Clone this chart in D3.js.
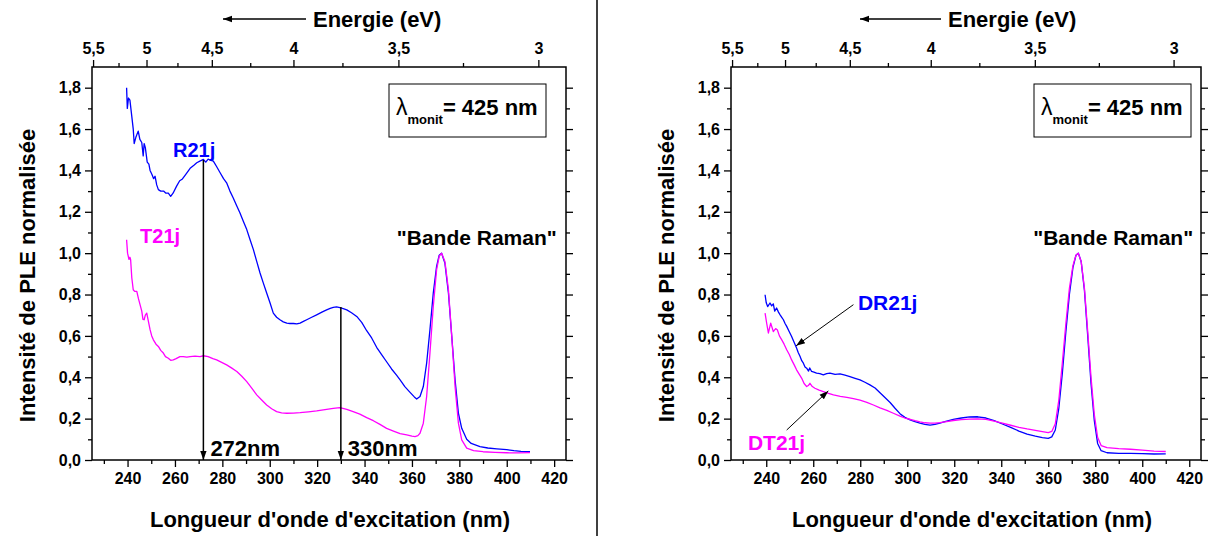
<!DOCTYPE html>
<html><head><meta charset="utf-8">
<script src="https://cdn.jsdelivr.net/npm/d3@7"></script>
<style>
body{margin:0;background:#fff;}
svg{display:block;font-family:"Liberation Sans",Arial,sans-serif;}
</style></head>
<body><svg id="c" width="1208" height="536"></svg>
<script>
// ---------- DATA ----------
const xDomain = [225, 425];
const yDomain = [0, 1.9];
const xMajorTicks = [240, 260, 280, 300, 320, 340, 360, 380, 400, 420];
const xMinorTicks = [230, 250, 270, 290, 310, 330, 350, 370, 390, 410];
const yMajorTicks = [0, 0.2, 0.4, 0.6, 0.8, 1.0, 1.2, 1.4, 1.6, 1.8];
const yMinorTicks = [0.1, 0.3, 0.5, 0.7, 0.9, 1.1, 1.3, 1.5, 1.7];
const energyTicks = [5.5, 5, 4.5, 4, 3.5, 3];
const energyLabels = ["5,5", "5", "4,5", "4", "3,5", "3"];
const energyMinor = [5.25, 4.75, 4.25, 3.75, 3.25];

// Left panel: R21j (blue)
const wlR21j = [239.6,239.9,240.4,241.0,241.8,242.4,242.8,243.5,244.5,245.2,246.0,246.6,247.0,247.5,248.3,249.0,249.5,250.3,251.0,251.6,252.3,253.0,254.0,255.2,256.2,257.2,258.2,259.2,260.7,262.0,263.0,264.5,266.4,268.0,269.2,270.5,272.0,273.0,274.0,275.2,276.2,277.5,279.0,280.5,281.8,283.2,284.6,286.0,287.4,288.8,290.3,291.7,293.1,294.5,295.9,297.3,298.7,300.1,301.5,302.9,304.3,305.7,307.2,308.5,310.0,311.4,312.8,314.2,315.6,317.7,319.8,322.0,324.0,325.5,326.8,328.2,329.6,331.0,332.5,334.5,336.7,338.8,340.9,343.0,345.1,347.2,349.3,351.4,353.5,355.0,357.0,359.2,361.0,362.0,363.4,364.8,366.2,367.6,369.0,370.4,371.5,372.5,373.9,375.4,376.8,378.2,379.6,381.0,383.1,385.0,388.7,392.0,395.8,400.0,403.0,406.0,409.8];
const valR21j = [1.80,1.70,1.75,1.74,1.66,1.60,1.53,1.56,1.59,1.55,1.535,1.47,1.53,1.51,1.44,1.43,1.40,1.38,1.36,1.372,1.33,1.307,1.30,1.30,1.29,1.29,1.275,1.29,1.324,1.35,1.357,1.38,1.41,1.425,1.437,1.445,1.453,1.44,1.455,1.448,1.445,1.42,1.39,1.36,1.34,1.30,1.267,1.23,1.195,1.155,1.114,1.065,1.017,0.96,0.904,0.855,0.807,0.76,0.71,0.69,0.678,0.668,0.662,0.660,0.660,0.658,0.662,0.670,0.678,0.69,0.702,0.715,0.726,0.733,0.738,0.74,0.737,0.732,0.726,0.712,0.694,0.665,0.625,0.59,0.545,0.51,0.475,0.44,0.41,0.387,0.355,0.327,0.305,0.295,0.307,0.355,0.468,0.63,0.807,0.936,0.99,1.0,0.952,0.807,0.597,0.387,0.226,0.153,0.10,0.08,0.065,0.058,0.054,0.05,0.045,0.042,0.04];

// Left panel: T21j (magenta)
const wlT21j = [239.6,240.0,240.6,241.0,241.3,241.8,242.4,243.0,243.9,244.6,245.3,246.0,246.5,247.0,247.5,248.1,248.8,249.5,250.2,250.9,252.0,253.0,254.0,255.1,256.0,257.2,258.2,259.3,260.5,262.1,263.5,265.0,266.4,268.5,270.6,272.0,274.0,276.0,277.6,279.7,281.8,284.0,286.1,288.2,290.3,292.4,294.5,296.6,298.7,300.8,302.9,305.0,307.2,310.0,312.8,316.3,319.8,323.3,326.8,329.6,332.5,335.2,338.0,340.9,343.7,346.5,349.3,352.2,355.0,357.8,360.0,361.3,362.5,363.4,364.8,366.2,367.6,369.0,370.4,371.5,372.5,373.9,375.4,376.8,378.2,379.6,381.0,383.1,386.0,390.0,395.0,400.0,405.0,409.8];
const valT21j = [1.065,1.00,0.97,0.98,0.968,0.88,0.823,0.815,0.815,0.78,0.75,0.72,0.68,0.678,0.70,0.71,0.67,0.63,0.60,0.581,0.56,0.549,0.53,0.517,0.50,0.492,0.482,0.484,0.49,0.50,0.50,0.497,0.50,0.502,0.50,0.504,0.50,0.49,0.484,0.472,0.46,0.444,0.428,0.405,0.379,0.347,0.315,0.29,0.266,0.248,0.234,0.228,0.226,0.227,0.229,0.233,0.237,0.244,0.25,0.253,0.245,0.234,0.222,0.205,0.19,0.172,0.153,0.14,0.128,0.121,0.115,0.113,0.118,0.129,0.178,0.307,0.517,0.742,0.92,0.985,1.0,0.96,0.823,0.597,0.355,0.178,0.097,0.057,0.045,0.04,0.037,0.035,0.034,0.036];

// Right panel: DR21j (blue)
const wlDR21j = [239.5,240.0,240.6,241.6,242.3,243.0,243.6,244.4,245.2,245.9,246.6,247.3,248.0,248.7,249.8,250.8,251.8,252.9,253.6,254.4,255.1,255.8,256.5,257.2,258.0,258.5,259.3,260.3,261.4,262.8,264.3,265.7,267.1,269.3,271.4,273.5,275.6,277.8,279.9,282.0,284.1,286.3,288.4,290.5,292.7,294.8,296.9,299.0,301.2,303.3,305.4,307.5,309.7,311.8,313.9,316.0,319.6,323.0,326.5,330.0,333.5,337.0,340.5,344.0,347.5,351.0,354.5,357.5,360.0,361.5,363.0,364.5,366.0,367.5,369.0,370.5,371.8,372.8,374.0,375.4,376.8,378.2,379.6,381.0,382.5,385.0,390.0,395.0,400.0,405.0,410.0];
const valDR21j = [0.799,0.76,0.742,0.759,0.745,0.755,0.72,0.735,0.715,0.702,0.69,0.678,0.66,0.646,0.62,0.597,0.57,0.541,0.52,0.50,0.48,0.468,0.45,0.444,0.43,0.445,0.428,0.425,0.42,0.418,0.412,0.418,0.42,0.414,0.416,0.41,0.403,0.395,0.387,0.376,0.363,0.348,0.325,0.302,0.278,0.25,0.224,0.206,0.194,0.185,0.178,0.172,0.169,0.172,0.178,0.186,0.196,0.203,0.208,0.209,0.203,0.19,0.174,0.158,0.14,0.125,0.115,0.108,0.105,0.112,0.145,0.25,0.42,0.62,0.8,0.93,0.99,1.0,0.96,0.82,0.6,0.37,0.19,0.08,0.045,0.035,0.032,0.032,0.031,0.029,0.03];

// Right panel: DT21j (magenta)
const wlDT21j = [239.5,240.2,240.9,241.9,243.0,244.0,244.7,245.6,246.6,247.6,248.7,249.8,250.8,251.9,252.9,254.0,255.1,256.1,257.2,257.9,258.6,259.6,260.7,262.5,264.3,266.5,268.6,271.5,274.3,277.1,279.9,282.8,285.6,288.4,291.3,294.1,296.9,299.0,301.2,303.3,305.4,307.5,309.7,311.8,313.9,316.8,319.6,323.0,326.5,330.0,333.5,337.0,340.5,344.0,347.5,351.0,354.5,357.5,360.0,361.5,363.0,364.5,366.0,367.5,369.0,370.5,371.8,372.8,374.0,375.4,376.8,378.2,379.6,381.0,382.5,385.0,390.0,395.0,400.0,405.0,410.0];
const valDT21j = [0.71,0.66,0.614,0.662,0.621,0.635,0.63,0.60,0.581,0.56,0.533,0.51,0.484,0.46,0.436,0.415,0.395,0.37,0.355,0.36,0.371,0.355,0.347,0.338,0.331,0.322,0.315,0.308,0.303,0.297,0.29,0.279,0.266,0.252,0.24,0.226,0.212,0.203,0.197,0.19,0.184,0.18,0.178,0.178,0.181,0.186,0.191,0.195,0.198,0.199,0.196,0.188,0.178,0.168,0.158,0.15,0.143,0.137,0.132,0.138,0.175,0.29,0.47,0.66,0.83,0.94,0.99,1.0,0.96,0.83,0.62,0.4,0.22,0.11,0.07,0.06,0.055,0.052,0.048,0.043,0.041];

const BLUE = "#0000ff", MAGENTA = "#ff00ff";

// ---------- DRAW ----------
const svg = d3.select("#c");
const defs = svg.append("defs");
defs.append("marker").attr("id","ah").attr("viewBox","0 0 10 10").attr("refX",10).attr("refY",5)
  .attr("markerWidth",9).attr("markerHeight",9).attr("markerUnits","userSpaceOnUse").attr("orient","auto")
  .append("path").attr("d","M0,1.5 L10,5 L0,8.5 Z").attr("fill","#000");

const fmtY = d => d.toFixed(1).replace(".", ",");
const Y0 = 460, Y1 = 67;

function panel(p) {
  const g = svg.append("g");
  const x = d3.scaleLinear().domain(xDomain).range([p.x0, p.x1]);
  const y = d3.scaleLinear().domain(yDomain).range([Y0, Y1]);
  const style = sel => {
    sel.select(".domain").remove();
    sel.selectAll("line").attr("stroke","#000").attr("stroke-width",1.3);
    sel.selectAll("text").attr("fill","#000").style("font-size","16px").style("font-weight","bold")
      .style("font-family","'Liberation Sans',Arial,sans-serif");
  };
  // bottom
  g.append("g").attr("transform",`translate(0,${Y0})`)
    .call(d3.axisBottom(x).tickValues(xMajorTicks).tickSize(7).tickPadding(6).tickFormat(d3.format("d"))).call(style);
  g.append("g").attr("transform",`translate(0,${Y0})`)
    .call(d3.axisBottom(x).tickValues(xMinorTicks).tickSize(4).tickFormat("")).call(style);
  // top (energy)
  const ex = e => 1240 / e;
  g.append("g").attr("transform",`translate(0,${Y1})`)
    .call(d3.axisTop(x).tickValues(energyTicks.map(ex)).tickSize(7).tickPadding(6)
      .tickFormat((d,i) => energyLabels[i])).call(style);
  g.append("g").attr("transform",`translate(0,${Y1})`)
    .call(d3.axisTop(x).tickValues(energyMinor.map(ex)).tickSize(4).tickFormat("")).call(style);
  // left
  g.append("g").attr("transform",`translate(${p.x0},0)`)
    .call(d3.axisLeft(y).tickValues(yMajorTicks).tickSize(7).tickPadding(4).tickFormat(fmtY)).call(style);
  g.append("g").attr("transform",`translate(${p.x0},0)`)
    .call(d3.axisLeft(y).tickValues(yMinorTicks).tickSize(4).tickFormat("")).call(style);
  // right
  g.append("g").attr("transform",`translate(${p.x1},0)`)
    .call(d3.axisRight(y).tickValues(yMajorTicks).tickSize(7).tickFormat("")).call(style);
  g.append("g").attr("transform",`translate(${p.x1},0)`)
    .call(d3.axisRight(y).tickValues(yMinorTicks).tickSize(4).tickFormat("")).call(style);
  // frame
  g.append("rect").attr("x",p.x0).attr("y",Y1).attr("width",p.x1-p.x0).attr("height",Y0-Y1)
    .attr("fill","none").attr("stroke","#000").attr("stroke-width",1.5);

  // series
  const line = d3.line().x(d => x(d[0])).y(d => y(d[1]));
  p.series.forEach(s => {
    g.append("path").datum(d3.zip(s.wl, s.val)).attr("d", line)
      .attr("fill","none").attr("stroke", s.color).attr("stroke-width",1.3).attr("stroke-linejoin","round");
  });

  // axis titles
  g.append("text").attr("x",p.titleX).attr("y",527).attr("text-anchor","middle")
    .style("font-size","22px").style("font-weight","bold").text("Longueur d'onde d'excitation (nm)");
  g.append("text").attr("transform",`translate(${p.x0-57},${(Y0+Y1)/2+12}) rotate(-90)`).attr("text-anchor","middle")
    .style("font-size","22px").style("font-weight","bold").text("Intensité de PLE normalisée");
  // Energy title + arrow
  g.append("line").attr("x1",p.eArrow[1]).attr("x2",p.eArrow[0]).attr("y1",19).attr("y2",19)
    .attr("stroke","#000").attr("stroke-width",1.3).attr("marker-end","url(#ah)");
  g.append("text").attr("x",p.eArrow[1]+7).attr("y",27).style("font-size","22px").style("font-weight","bold")
    .text("Energie (eV)");

  // legend box
  const bx = p.box;
  g.append("rect").attr("x",bx).attr("y",84).attr("width",157).attr("height",53)
    .attr("fill","#fff").attr("stroke","#000").attr("stroke-width",1);
  const t = g.append("text").attr("x",bx+7).attr("y",115).style("font-weight","bold");
  t.append("tspan").style("font-size","23px").style("font-weight","normal").text("λ");
  t.append("tspan").attr("dy",9).style("font-size","13px").text("monit");
  t.append("tspan").attr("dy",-9).style("font-size","22px").text("= 425 nm");

  // Raman label
  g.append("text").attr("x",x(353.6)).attr("y",y(1.04)).style("font-size","21px").style("font-weight","bold")
    .text("\"Bande Raman\"");

  p.annot(g, x, y);
}

panel({
  x0: 92, x1: 566, titleX: 330, eArrow: [223, 306], box: 389,
  series: [{wl: wlR21j, val: valR21j, color: BLUE}, {wl: wlT21j, val: valT21j, color: MAGENTA}],
  annot: (g, x, y) => {
    g.append("text").attr("x",x(259.2)).attr("y",y(1.467)).attr("fill",BLUE)
      .style("font-size","20px").style("font-weight","bold").text("R21j");
    g.append("text").attr("x",x(245.3)).attr("y",y(1.051)).attr("fill",MAGENTA)
      .style("font-size","20px").style("font-weight","bold").text("T21j");
    [[272, 1.45, "272nm"], [330, 0.74, "330nm"]].forEach(([w, v, lab]) => {
      g.append("line").attr("x1",x(w)).attr("x2",x(w)).attr("y1",y(v)).attr("y2",y(0))
        .attr("stroke","#000").attr("stroke-width",1.5).attr("marker-end","url(#ah)");
      g.append("text").attr("x",x(w)+7).attr("y",y(0.02)).style("font-size","22px").style("font-weight","bold").text(lab);
    });
  }
});

panel({
  x0: 731, x1: 1201, titleX: 972, eArrow: [860, 941], box: 1034,
  series: [{wl: wlDR21j, val: valDR21j, color: BLUE}, {wl: wlDT21j, val: valDT21j, color: MAGENTA}],
  annot: (g, x, y) => {
    g.append("text").attr("x",x(279)).attr("y",y(0.726)).attr("fill",BLUE)
      .style("font-size","21px").style("font-weight","bold").text("DR21j");
    g.append("line").attr("x1",x(277.1)).attr("y1",y(0.751)).attr("x2",x(252.7)).attr("y2",y(0.552))
      .attr("stroke","#000").attr("stroke-width",1).attr("marker-end","url(#ah)");
    g.append("text").attr("x",x(232.2)).attr("y",y(0.048)).attr("fill",MAGENTA)
      .style("font-size","21px").style("font-weight","bold").text("DT21j");
    g.append("line").attr("x1",x(248.7)).attr("y1",y(0.145)).attr("x2",x(266.4)).attr("y2",y(0.334))
      .attr("stroke","#000").attr("stroke-width",1).attr("marker-end","url(#ah)");
  }
});

// separator
svg.append("line").attr("x1",597).attr("x2",597).attr("y1",0).attr("y2",536).attr("stroke","#000").attr("stroke-width",1.5);
</script></body></html>
